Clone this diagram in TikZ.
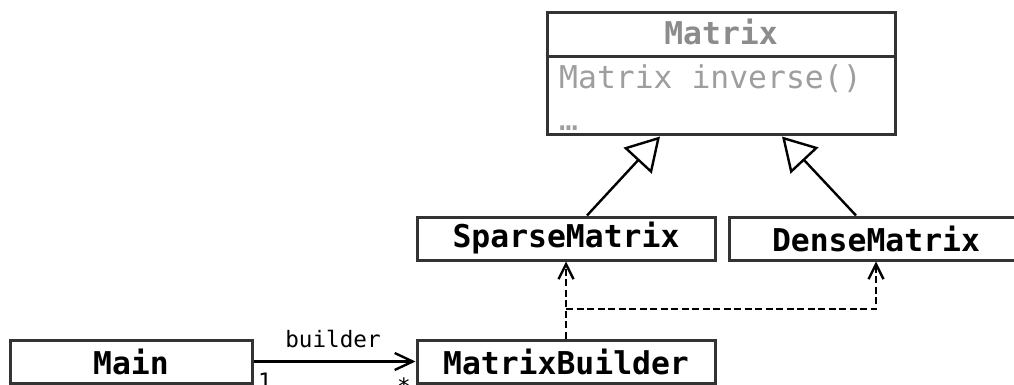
\documentclass[tikz,border=0pt]{standalone}
\usepackage{fontspec}
\setmonofont{DejaVu Sans Mono}
\usetikzlibrary{arrows.meta}
\definecolor{titlegray}{gray}{0.55}
\definecolor{bodygray}{gray}{0.62}
\definecolor{boxline}{gray}{0.2}
\begin{document}
\begin{tikzpicture}[x=1pt,y=-1pt,
  cls/.style={draw=boxline, line width=3pt, fill=white, inner sep=0pt,
    minimum height=43pt, font=\fontsize{31.4}{36}\selectfont\ttfamily\bfseries},
  gen/.style={line width=2.4pt, -{Triangle[open,length=33pt,width=38pt,line width=2.4pt]}},
  dep/.style={line width=2.4pt, dash pattern=on 7pt off 3.5pt,
    -{Straight Barb[length=15pt,width=15pt,line width=2.4pt]}},
  assoc/.style={line width=2.4pt, -{Straight Barb[length=18pt,width=17pt,line width=2.4pt]}},
  small/.style={font=\fontsize{22.6}{26}\selectfont\ttfamily, inner sep=0pt},
  member/.style={font=\fontsize{31.4}{36}\selectfont\ttfamily, text=bodygray, inner sep=0pt}
]
\useasboundingbox (0,0) rectangle (1014,385);

% Matrix class
\node[draw=boxline, line width=3pt, fill=white, minimum width=348pt, minimum height=122pt, inner sep=0pt]
  (matrix) at (721,74) {};
\draw[draw=boxline, line width=3pt] (matrix.west |- 0,57) -- (matrix.east |- 0,57);
\node[font=\fontsize{31.4}{36}\selectfont\ttfamily\bfseries, text=titlegray, inner sep=0pt, anchor=base]
  (mtitle) at (721,45) {Matrix};
\node[member, anchor=base west] (minv) at (559,89) {Matrix inverse()};
\node[member, anchor=base west] (mdots) at (559,131) {…};

% other classes
\node[cls, minimum width=298pt] (sparse) at (566,238.5) {SparseMatrix};
\node[cls, minimum width=294pt] (dense) at (876,238.5) {DenseMatrix};
\node[cls, minimum width=242pt] (main) at (131,361.5) {Main};
\node[cls, minimum width=298pt] (builder) at (566,361.5) {MatrixBuilder};

% generalizations
\draw[gen] ([xshift=21pt]sparse.north) -- ([xshift=-61pt]matrix.south);
\draw[gen] ([xshift=-20pt]dense.north) -- ([xshift=61pt]matrix.south);

% dependencies
\coordinate (junction) at (builder.north |- 0,309);
\draw[dep] (builder.north) -- (sparse.south);
\draw[dep] (junction) -| (dense.south);

% association
\draw[assoc] (main.east) -- (builder.west);
\node[small, anchor=base] (lbuilder) at (333,347) {builder};
\node[small, anchor=base west] (lone) at (258,389.5) {1};
\node[small, anchor=base] (lmany) at (404,394) {*};
\end{tikzpicture}
\end{document}
